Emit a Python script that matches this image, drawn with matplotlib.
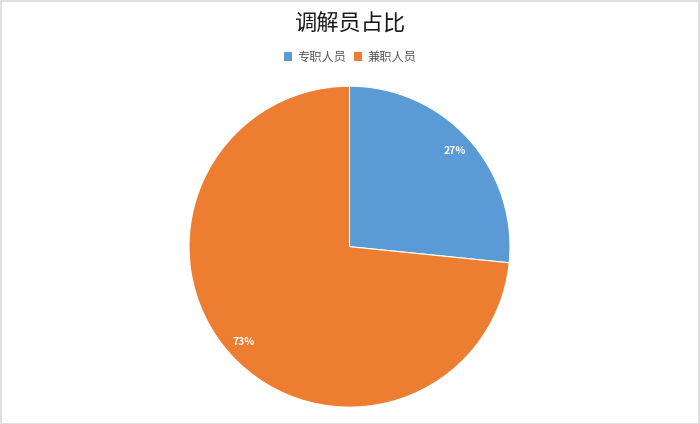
import matplotlib
matplotlib.use('Agg')
import matplotlib.pyplot as plt
from matplotlib.patches import Rectangle, Patch

plt.rcParams['font.family'] = ['Noto Sans CJK SC', 'DejaVu Sans']

labels = ['专职人员', '兼职人员']
shares = [26.6, 73.4]   # labels read 27% / 73%, wedge edge sits a bit above 27%
colors = ['#5B9BD5', '#ED7D31']

fig = plt.figure(figsize=(7, 4.24), dpi=100)
fig.patches.append(Rectangle((0.001, 0.001), 0.997, 0.996, transform=fig.transFigure,
                             fill=False, edgecolor='#d9d9d9', linewidth=1.2))

ax = fig.add_axes([0.27, 0.0377 + 0.002, 321 / 700, 321 / 424])
wedges, texts, autotexts = ax.pie(shares, colors=colors, startangle=90, counterclock=False,
                                  autopct='%.0f%%', pctdistance=0.885,
                                  wedgeprops=dict(edgecolor='white', linewidth=0.8))
for t in autotexts:
    t.set_color('white')
    t.set_fontsize(7.5)
    t.set_fontweight('bold')
ax.set_xlim(-1, 1)
ax.set_ylim(-1, 1)
ax.set_aspect('equal')

fig.text(0.5, 0.945, '调解员占比', ha='center', va='center', fontsize=16, fontweight='medium',
         color='#1a1a1a')

handles = [Patch(facecolor=c, edgecolor='none') for c in colors]
leg = fig.legend(handles, labels, loc='center', bbox_to_anchor=(0.5, 0.865), ncol=2,
                 frameon=False, fontsize=8.8, handlelength=0.7, handleheight=0.7,
                 handletextpad=0.4, columnspacing=0.6)
for t in leg.get_texts():
    t.set_color('#595959')

fig.savefig('out.png', dpi=100)
